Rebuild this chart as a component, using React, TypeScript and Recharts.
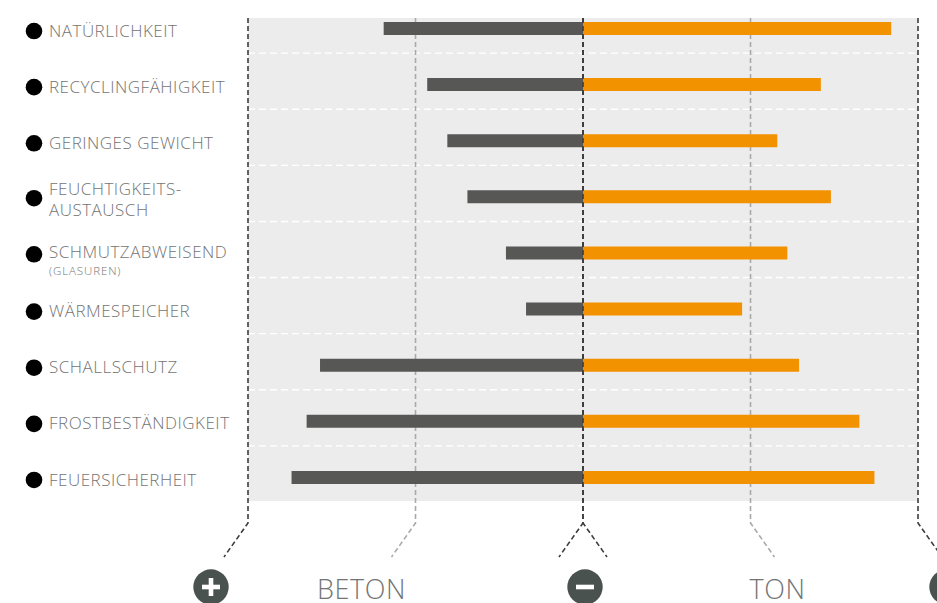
import { BarChart, Bar, XAxis, YAxis, CartesianGrid, ReferenceLine } from 'recharts'

const categories = [
	'NATÜRLICHKEIT',
	'RECYCLINGFÄHIGKEIT',
	'GERINGES GEWICHT',
	'FEUCHTIGKEITS-\nAUSTAUSCH',
	'SCHMUTZABWEISEND',
	'WÄRMESPEICHER',
	'SCHALLSCHUTZ',
	'FROSTBESTÄNDIGKEIT',
	'FEUERSICHERHEIT',
]
const notes = ['', '', '', '', '(GLASUREN)', '', '', '', '']
// beton is drawn to the left, so its scores are negative
const beton = [-11.9, -9.3, -8.1, -6.9, -4.6, -3.4, -15.7, -16.5, -17.4]
const ton = [18.4, 14.2, 11.6, 14.8, 12.2, 9.5, 12.9, 16.5, 17.4]
const guideTicks = [-20, -10, 0, 10, 20]
const sideTitles = ['BETON', 'TON']

const data = categories.map((name, i) => ({ name, beton: beton[i], ton: ton[i] }))

const WIDTH = 937
const HEIGHT = 603
const MARGIN = { top: 0, right: 19, bottom: 98, left: 0 }
const LABEL_WIDTH = 248
const PANEL_TOP = 18
const PANEL_BOTTOM = 501
const GUIDE_BEND = 523
const GUIDE_END = 557
const ICON_Y = 587
const TITLE_Y = 599

const TEXT = '#747474'
const ICON = '#4a5250'
const FONT = '"Open Sans", "DejaVu Sans", sans-serif'

const band = (HEIGHT - MARGIN.top - MARGIN.bottom) / categories.length
const separators = categories.map((_, i) => MARGIN.top + (i + 1) * band - 3)

const Icon = ({ x, sign }: { x: number; sign: '+' | '-' }) => (
	<g>
		<circle cx={x} cy={ICON_Y} r={17.7} fill={ICON} />
		<rect x={x - 9} y={ICON_Y - 2.3} width={18} height={4.6} fill="#fff" />
		{sign === '+' && <rect x={x - 2.3} y={ICON_Y - 9} width={4.6} height={18} fill="#fff" />}
	</g>
)

const renderGuide = (props: any) => {
	const { x1, index } = props
	const x = x1
	const isMid = index === 1 || index === 3
	const stroke = isMid ? '#a9a9a9' : '#3d3d3d'
	const dirs = index === 2 ? [-1, 1] : [index < 2 ? -1 : 1]
	return (
		<g key={`guide-${index}`}>
			{dirs.map((d) => (
				<path
					key={d}
					d={`M${x},${PANEL_TOP}V${GUIDE_BEND}L${x + d * 24},${GUIDE_END}`}
					fill="none"
					stroke={stroke}
					strokeWidth={1.6}
					strokeDasharray="5 3"
				/>
			))}
			{index === 0 && <Icon x={x - 37} sign="+" />}
			{index === 2 && <Icon x={x + 2} sign="-" />}
			{index === 4 && <Icon x={x + 29} sign="+" />}
			{index === 1 && (
				<text x={x - 54} y={TITLE_Y} textAnchor="middle" fontSize={27} fontWeight={300} letterSpacing={0.6} fill={TEXT} fontFamily={FONT}>
					{sideTitles[0]}
				</text>
			)}
			{index === 3 && (
				<text x={x + 27} y={TITLE_Y} textAnchor="middle" fontSize={27} fontWeight={300} letterSpacing={0.6} fill={TEXT} fontFamily={FONT}>
					{sideTitles[1]}
				</text>
			)}
		</g>
	)
}

const renderSeparator = (props: any) => (
	<line
		key={`sep-${props.index}`}
		x1={props.x1}
		y1={props.y1}
		x2={props.x2}
		y2={props.y2}
		stroke="#ffffff"
		strokeWidth={1.4}
		strokeDasharray="7 4"
	/>
)

const LabelTick = (props: any) => {
	const { y, payload } = props
	const i = categories.indexOf(payload.value)
	const lines = String(payload.value).split('\n')
	const note = notes[i]
	const firstBaseline = lines.length > 1 ? y - 1.7 : note ? y + 5.6 : y + 8.6
	return (
		<g>
			<circle cx={34} cy={y + (lines.length > 1 || note ? 1.8 : 3)} r={8.3} fill="#000" />
			<text x={49} y={firstBaseline} fontSize={17} fontWeight={300} letterSpacing={0.5} fill={TEXT} fontFamily={FONT}>
				{lines.map((l, k) => (
					<tspan key={k} x={49} dy={k === 0 ? 0 : 21}>
						{l}
					</tspan>
				))}
			</text>
			{note && (
				<text x={49} y={y + 22.3} fontSize={11.5} fontWeight={300} letterSpacing={0.9} fill={TEXT} fontFamily={FONT}>
					{note}
				</text>
			)}
		</g>
	)
}

export default function App() {
	return (
		<div style={{ position: 'absolute', left: 0, top: 0 }}>
			<BarChart
				layout="vertical"
				width={WIDTH}
				height={HEIGHT}
				data={data}
				margin={MARGIN}
				stackOffset="sign"
				barCategoryGap={0}
			>
				<CartesianGrid
					y={PANEL_TOP}
					height={PANEL_BOTTOM - PANEL_TOP}
					fill="#ececec"
					stroke="none"
					horizontalPoints={separators}
					horizontal={renderSeparator}
					vertical={renderGuide}
				/>
				<XAxis type="number" domain={[-20, 20]} ticks={guideTicks} hide />
				<YAxis
					type="category"
					dataKey="name"
					width={LABEL_WIDTH}
					axisLine={false}
					tickLine={false}
					tick={<LabelTick />}
					interval={0}
				/>
				<Bar dataKey="beton" stackId="s" fill="#575756" barSize={13} isAnimationActive={false} />
				<Bar dataKey="ton" stackId="s" fill="#f39200" barSize={13} isAnimationActive={false} />
				<ReferenceLine
					x={0}
					shape={(p: any) => (
						<line x1={p.x1} x2={p.x2} y1={PANEL_TOP} y2={PANEL_BOTTOM} stroke="#3d3d3d" strokeWidth={1.6} strokeDasharray="5 3" />
					)}
				/>
			</BarChart>
		</div>
	)
}
